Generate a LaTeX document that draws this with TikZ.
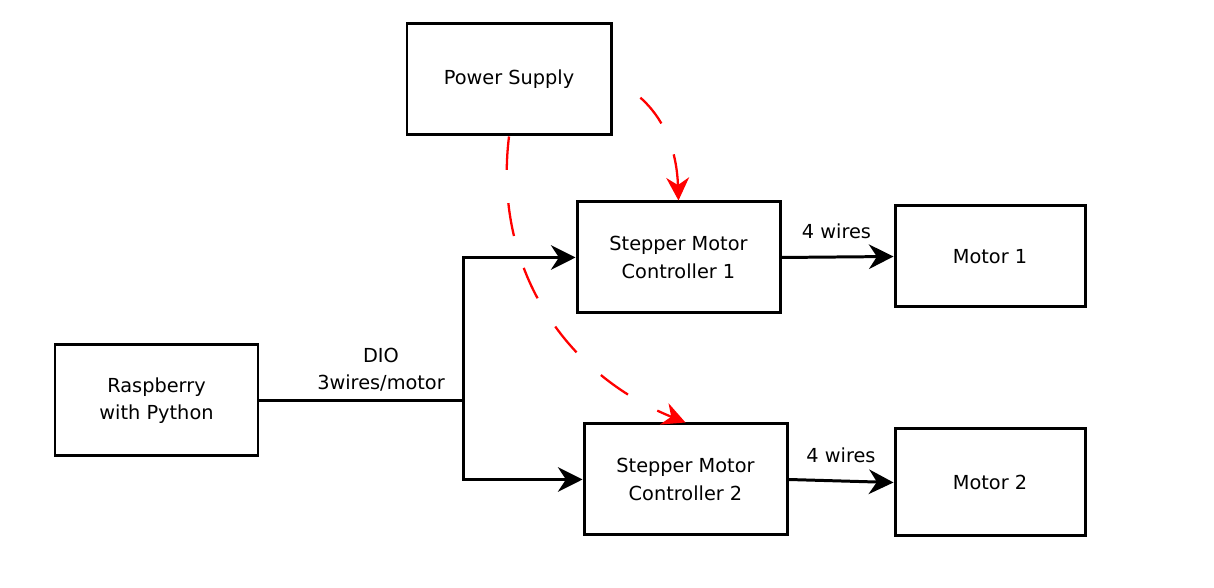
\documentclass[tikz,border=0pt]{standalone}
\usepackage{fontspec}
\setmainfont{DejaVu Sans}
\usepackage{tikz}
\usetikzlibrary{arrows.meta, positioning, calc}
\usepackage{xcolor}
\definecolor{DiagBlack}{HTML}{000000}
\definecolor{DiagWhite}{HTML}{ffffff}
\definecolor{DiagRed}{HTML}{ff0000}
\tikzset{
    % Box styles - all sharp corners
    block/.style={
        rectangle,
        draw=DiagBlack,
        fill=DiagWhite,
        line width=1.7pt,
        minimum width=4.06cm,
        minimum height=2.22cm,
        align=center,
        font=\fontsize{11}{15.5}\selectfont
    },
    motor/.style={
        block,
        minimum width=3.8cm
    },
    wirelabel/.style={
        align=center,
        font=\fontsize{11}{15.5}\selectfont
    },
    % Arrow styles
    arrow/.style={
        -{Stealth[length=14pt, width=14pt]},
        line width=1.7pt,
        draw=DiagBlack
    },
    line/.style={
        line width=1.7pt,
        draw=DiagBlack
    },
    powerarrow/.style={
        -{Stealth[length=13pt, width=13pt]},
        line width=1.3pt,
        draw=DiagRed,
        dash pattern=on 19pt off 19pt
    }
}
\begin{document}
\begin{tikzpicture}
    \useasboundingbox (0,0) rectangle (24.28,11.76);

    \node[block, minimum width=4.08cm] (ps) at (10.18,10.17) {Power Supply};

    \node[block] (smc1) at (13.57,6.61) {Stepper Motor\\Controller 1};

    \node[block] (smc2) at (13.71,2.17) {Stepper Motor\\Controller 2};

    \node[motor, minimum height=2.02cm] (m1) at (19.80,6.63) {Motor 1};

    \node[motor, minimum height=2.14cm] (m2) at (19.80,2.11) {Motor 2};

    \node[block] (rpi) at (3.13,3.75) {Raspberry\\with Python};

    \coordinate (bus) at (9.26,3.75);

    % digital lines
    \draw[line] (rpi.east) -- (bus);
    \draw[arrow] (bus) |- (smc1.west);
    \draw[arrow] (bus) |- (smc2.west);
    \node[wirelabel] (dio) at (7.62,4.36) {DIO\\3wires/motor};

    % motor wires
    \draw[arrow] (smc1.east) -- (m1.west);
    \node[wirelabel] (w1) at (16.73,7.14) {4 wires};
    \draw[arrow] (smc2.east) -- (m2.west);
    \node[wirelabel] (w2) at (16.82,2.66) {4 wires};

    % power
    \draw[powerarrow, dash phase=19pt] (ps.east) to[out=-25, in=92] (smc1.north);
    \draw[powerarrow] (ps.south) to[out=-97, in=158] (smc2.north);
\end{tikzpicture}
\end{document}
